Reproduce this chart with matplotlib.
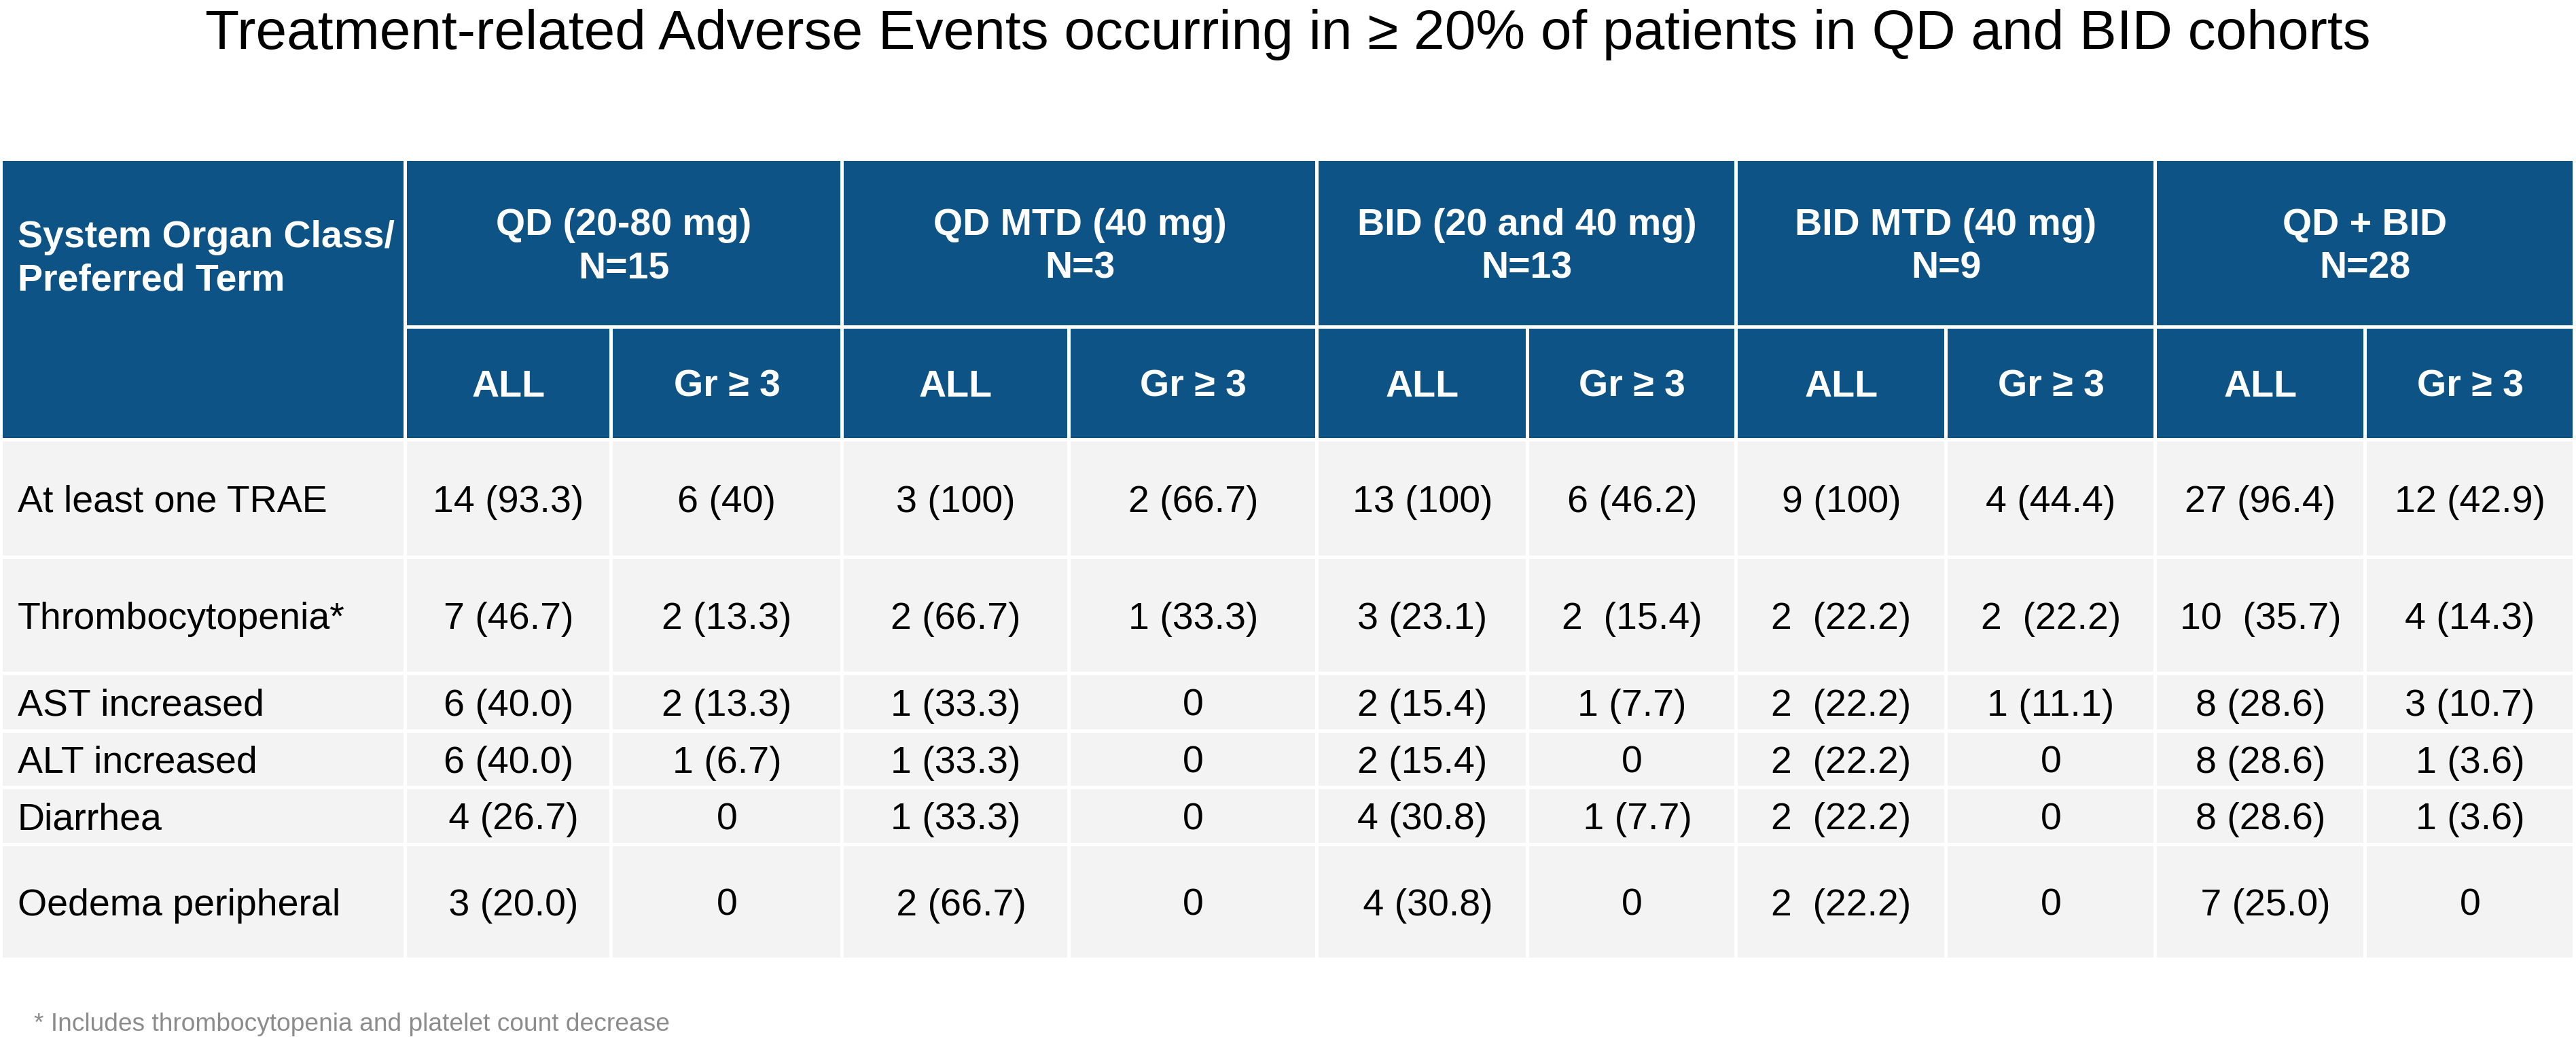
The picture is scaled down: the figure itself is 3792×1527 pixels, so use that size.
import matplotlib.pyplot as plt
from matplotlib.patches import Rectangle

# table content
title = "Treatment-related Adverse Events occurring in \u2265 20% of patients in QD and BID cohorts"
footnote = "* Includes thrombocytopenia and platelet count decrease"
first_header = "System Organ Class/\nPreferred Term"
groups = ["QD (20-80 mg)\nN=15", "QD MTD (40 mg)\nN=3", "BID (20 and 40 mg)\nN=13",
          "BID MTD (40 mg)\nN=9", "QD + BID\nN=28"]
sub_headers = ["ALL", "Gr \u2265 3"]
row_labels = ["At least one TRAE", "Thrombocytopenia*", "AST increased",
              "ALT increased", "Diarrhea", "Oedema peripheral"]
trae = ["14 (93.3)", "6 (40)", "3 (100)", "2 (66.7)", "13 (100)", "6 (46.2)",
        "9 (100)", "4 (44.4)", "27 (96.4)", "12 (42.9)"]
thrombo = ["7 (46.7)", "2 (13.3)", "2 (66.7)", "1 (33.3)", "3 (23.1)", "2  (15.4)",
           "2  (22.2)", "2  (22.2)", "10  (35.7)", "4 (14.3)"]
ast = ["6 (40.0)", "2 (13.3)", "1 (33.3)", "0", "2 (15.4)", "1 (7.7)",
       "2  (22.2)", "1 (11.1)", "8 (28.6)", "3 (10.7)"]
alt = ["6 (40.0)", "1 (6.7)", "1 (33.3)", "0", "2 (15.4)", "0",
       "2  (22.2)", "0", "8 (28.6)", "1 (3.6)"]
diarrhea = [" 4 (26.7)", "0", "1 (33.3)", "0", "4 (30.8)", " 1 (7.7)",
            "2  (22.2)", "0", "8 (28.6)", "1 (3.6)"]
oedema = [" 3 (20.0)", "0", " 2 (66.7)", "0", " 4 (30.8)", "0",
          "2  (22.2)", "0", " 7 (25.0)", "0"]
rows = [trae, thrombo, ast, alt, diarrhea, oedema]

# layout in pixels
W, H = 3792, 1527
col_edges = [2, 597, 900, 1240, 1574, 1939, 2249, 2556, 2865, 3173, 3482, 3790]
row_edges = [234, 481, 647, 820, 991, 1076, 1159, 1243, 1412]
gap = 2.5
blue = "#0E5386"
grey = "#F3F3F3"
font = "Liberation Sans"
fs = 40
cap = 20  # half cap height in px, to centre text on its capitals

fig = plt.figure(figsize=(W / 100, H / 100), dpi=100)
ax = fig.add_axes([0, 0, 1, 1])
ax.set_xlim(0, W)
ax.set_ylim(H, 0)
ax.axis("off")


def cell(x0, x1, y0, y1, color):
    ax.add_patch(Rectangle((x0 + gap, y0 + gap), x1 - x0 - 2 * gap, y1 - y0 - 2 * gap,
                           facecolor=color, edgecolor="none"))


# header
cell(col_edges[0], col_edges[1], row_edges[0], row_edges[2], blue)
ax.text(col_edges[0] + 24, 428, first_header, ha="left", va="baseline", color="white",
        fontsize=fs, fontweight="bold", family=font, linespacing=1.3)
for g, name in enumerate(groups):
    x0, x1 = col_edges[1 + 2 * g], col_edges[3 + 2 * g]
    cell(x0, x1, row_edges[0], row_edges[1], blue)
    ax.text((x0 + x1) / 2, 410, name, ha="center", va="baseline", color="white",
            fontsize=fs, fontweight="bold", family=font, linespacing=1.3,
            multialignment="center")
    for k, sub in enumerate(sub_headers):
        a, b = col_edges[1 + 2 * g + k], col_edges[2 + 2 * g + k]
        cell(a, b, row_edges[1], row_edges[2], blue)
        ax.text((a + b) / 2, (row_edges[1] + row_edges[2]) / 2 + cap, sub, ha="center",
                va="baseline", color="white", fontsize=fs, fontweight="bold", family=font)

# body
for r, (label, vals) in enumerate(zip(row_labels, rows)):
    y0, y1 = row_edges[2 + r], row_edges[3 + r]
    yb = (y0 + y1) / 2 + cap
    cell(col_edges[0], col_edges[1], y0, y1, grey)
    ax.text(col_edges[0] + 24, yb, label, ha="left", va="baseline", color="black",
            fontsize=fs, family=font)
    for c, v in enumerate(vals):
        a, b = col_edges[1 + c], col_edges[2 + c]
        cell(a, b, y0, y1, grey)
        ax.text((a + b) / 2, yb, v, ha="center", va="baseline", color="black",
                fontsize=fs, family=font)

ax.text(W / 2, 72, title, ha="center", va="baseline", fontsize=59, family=font, color="black")
ax.text(50, 1518, footnote, ha="left", va="baseline", fontsize=26.7, family=font, color="#8C8C8C")

fig.savefig("out.png", dpi=100)
